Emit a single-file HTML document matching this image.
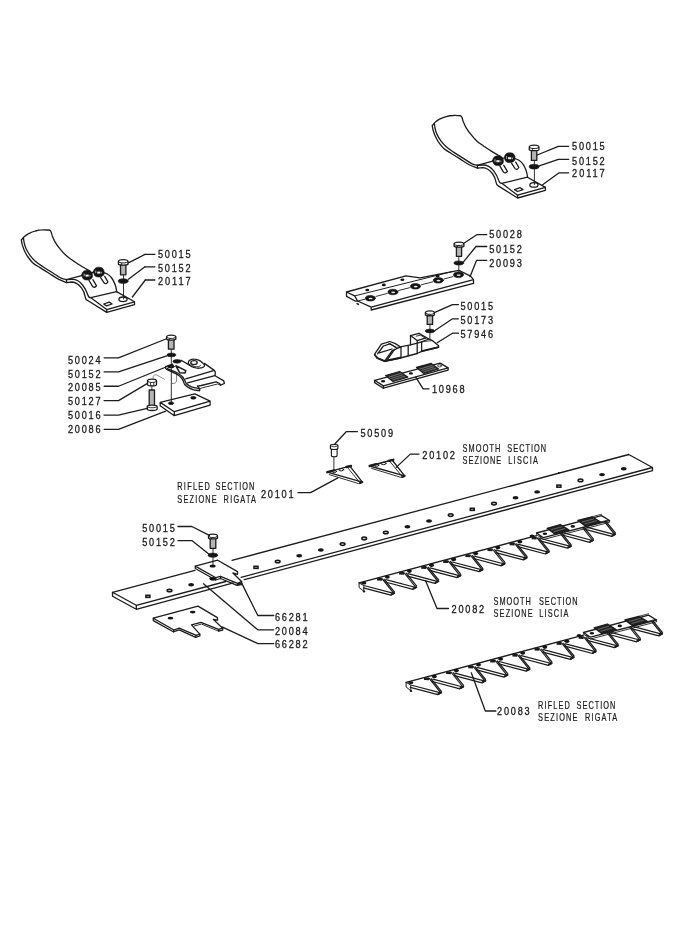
<!DOCTYPE html>
<html><head><meta charset="utf-8"><title>Parts diagram</title>
<style>
html,body{margin:0;padding:0;background:#fff}
body{width:680px;height:943px;overflow:hidden}
svg{display:block;filter:grayscale(1)}
.n{font-family:"Liberation Sans",sans-serif;font-size:10.2px;fill:#1a1a1a;stroke:#1a1a1a;stroke-width:0.3px}
.s{font-family:"Liberation Sans",sans-serif;font-size:10.2px;fill:#1a1a1a;stroke:#1a1a1a;stroke-width:0.22px}
.l{fill:none;stroke:#1c1c1c;stroke-width:1.3;stroke-linejoin:round;stroke-linecap:round}
.hf{fill:#161616;stroke:none}
.ho{fill:#ccc;stroke:#161616;stroke-width:1.5}
</style></head><body>
<svg width="680" height="943" viewBox="0 0 680 943">
<rect width="680" height="943" fill="#fff"/>
<text class="n" transform="translate(572.1,150.4) scale(0.9,1)" textLength="36.2" lengthAdjust="spacing">50015</text>
<text class="n" transform="translate(572.1,164.9) scale(0.9,1)" textLength="36.2" lengthAdjust="spacing">50152</text>
<text class="n" transform="translate(572.1,176.9) scale(0.9,1)" textLength="36.2" lengthAdjust="spacing">20117</text>
<text class="n" transform="translate(158.0,257.6) scale(0.9,1)" textLength="36.2" lengthAdjust="spacing">50015</text>
<text class="n" transform="translate(158.0,271.6) scale(0.9,1)" textLength="36.2" lengthAdjust="spacing">50152</text>
<text class="n" transform="translate(158.0,284.9) scale(0.9,1)" textLength="36.2" lengthAdjust="spacing">20117</text>
<text class="n" transform="translate(489.2,237.6) scale(0.9,1)" textLength="36.2" lengthAdjust="spacing">50028</text>
<text class="n" transform="translate(489.2,252.6) scale(0.9,1)" textLength="36.2" lengthAdjust="spacing">50152</text>
<text class="n" transform="translate(489.2,266.8) scale(0.9,1)" textLength="36.2" lengthAdjust="spacing">20093</text>
<text class="n" transform="translate(460.4,309.7) scale(0.9,1)" textLength="36.2" lengthAdjust="spacing">50015</text>
<text class="n" transform="translate(460.4,323.7) scale(0.9,1)" textLength="36.2" lengthAdjust="spacing">50173</text>
<text class="n" transform="translate(460.4,337.6) scale(0.9,1)" textLength="36.2" lengthAdjust="spacing">57946</text>
<text class="n" transform="translate(431.9,392.5) scale(0.9,1)" textLength="36.2" lengthAdjust="spacing">10968</text>
<text class="n" transform="translate(67.9,363.75) scale(0.9,1)" textLength="36.2" lengthAdjust="spacing">50024</text>
<text class="n" transform="translate(67.9,377.6) scale(0.9,1)" textLength="36.2" lengthAdjust="spacing">50152</text>
<text class="n" transform="translate(67.9,390.9) scale(0.9,1)" textLength="36.2" lengthAdjust="spacing">20085</text>
<text class="n" transform="translate(67.9,405) scale(0.9,1)" textLength="36.2" lengthAdjust="spacing">50127</text>
<text class="n" transform="translate(67.9,418.9) scale(0.9,1)" textLength="36.2" lengthAdjust="spacing">50016</text>
<text class="n" transform="translate(67.9,432.6) scale(0.9,1)" textLength="36.2" lengthAdjust="spacing">20086</text>
<text class="n" transform="translate(360.4,437) scale(0.9,1)" textLength="36.2" lengthAdjust="spacing">50509</text>
<text class="n" transform="translate(422.3,458.8) scale(0.9,1)" textLength="36.2" lengthAdjust="spacing">20102</text>
<text class="n" transform="translate(261.0,497.7) scale(0.9,1)" textLength="36.2" lengthAdjust="spacing">20101</text>
<text class="n" transform="translate(142.2,532.1) scale(0.9,1)" textLength="36.2" lengthAdjust="spacing">50015</text>
<text class="n" transform="translate(142.2,546.2) scale(0.9,1)" textLength="36.2" lengthAdjust="spacing">50152</text>
<text class="n" transform="translate(275.0,620.8) scale(0.9,1)" textLength="36.2" lengthAdjust="spacing">66281</text>
<text class="n" transform="translate(275.0,634.8) scale(0.9,1)" textLength="36.2" lengthAdjust="spacing">20084</text>
<text class="n" transform="translate(275.0,647.6) scale(0.9,1)" textLength="36.2" lengthAdjust="spacing">66282</text>
<text class="n" transform="translate(451.6,613.2) scale(0.9,1)" textLength="36.2" lengthAdjust="spacing">20082</text>
<text class="n" transform="translate(497.1,714.7) scale(0.9,1)" textLength="36.2" lengthAdjust="spacing">20083</text>
<text class="s" transform="translate(462.6,452.2) scale(0.72,1)" textLength="52.5" lengthAdjust="spacing">SMOOTH</text>
<text class="s" transform="translate(507.3,452.2) scale(0.72,1)" textLength="53.9" lengthAdjust="spacing">SECTION</text>
<text class="s" transform="translate(462.6,463.7) scale(0.72,1)" textLength="53.7" lengthAdjust="spacing">SEZIONE</text>
<text class="s" transform="translate(508.2,463.7) scale(0.72,1)" textLength="41.2" lengthAdjust="spacing">LISCIA</text>
<text class="s" transform="translate(177.3,490) scale(0.72,1)" textLength="45.0" lengthAdjust="spacing">RIFLED</text>
<text class="s" transform="translate(215.5,490) scale(0.72,1)" textLength="53.8" lengthAdjust="spacing">SECTION</text>
<text class="s" transform="translate(177.3,503) scale(0.72,1)" textLength="54.7" lengthAdjust="spacing">SEZIONE</text>
<text class="s" transform="translate(223.6,503) scale(0.72,1)" textLength="45.0" lengthAdjust="spacing">RIGATA</text>
<text class="s" transform="translate(493.6,605) scale(0.72,1)" textLength="51.7" lengthAdjust="spacing">SMOOTH</text>
<text class="s" transform="translate(538.9,605) scale(0.72,1)" textLength="53.8" lengthAdjust="spacing">SECTION</text>
<text class="s" transform="translate(493.6,616.9) scale(0.72,1)" textLength="54.2" lengthAdjust="spacing">SEZIONE</text>
<text class="s" transform="translate(539.3,616.9) scale(0.72,1)" textLength="40.4" lengthAdjust="spacing">LISCIA</text>
<text class="s" transform="translate(538.1,709.2) scale(0.72,1)" textLength="43.9" lengthAdjust="spacing">RIFLED</text>
<text class="s" transform="translate(576.6,709.2) scale(0.72,1)" textLength="53.9" lengthAdjust="spacing">SECTION</text>
<text class="s" transform="translate(538.1,720.9) scale(0.72,1)" textLength="54.6" lengthAdjust="spacing">SEZIONE</text>
<text class="s" transform="translate(585.0,720.9) scale(0.72,1)" textLength="44.7" lengthAdjust="spacing">RIGATA</text>
<g class="l"><path d="M112.5,592.3 L195,570.3 M232,560.4 L628.75,454.5 L652.5,467.5 L652.5,470.7 L244.2,579.7 M652.5,467.5 L241.1,577.3"/>
<path d="M112.5,592.3 L136.3,605.3 L136.3,609.3 L112.5,596.3 Z M136.3,605.3 L225.7,581.5 M136.3,609.3 L233.4,582.8"/></g>
<ellipse cx="623.8" cy="468.8" rx="2.9" ry="1.7" class="hf"/>
<ellipse cx="602.1" cy="474.6" rx="2.9" ry="1.7" class="hf"/>
<ellipse cx="580.5" cy="480.4" rx="2.4" ry="1.3" class="ho"/>
<rect x="556.9" y="485.1" width="4" height="2.1" class="ho"/>
<ellipse cx="537.2" cy="491.9" rx="2.9" ry="1.7" class="hf"/>
<ellipse cx="515.6" cy="497.8" rx="2.9" ry="1.7" class="hf"/>
<ellipse cx="494.0" cy="503.6" rx="2.4" ry="1.3" class="ho"/>
<rect x="470.3" y="508.3" width="4" height="2.1" class="ho"/>
<ellipse cx="450.7" cy="515.1" rx="2.4" ry="1.3" class="ho"/>
<ellipse cx="429.1" cy="521.0" rx="2.9" ry="1.7" class="hf"/>
<ellipse cx="407.5" cy="526.8" rx="2.9" ry="1.7" class="hf"/>
<ellipse cx="385.8" cy="532.5" rx="2.4" ry="1.3" class="ho"/>
<ellipse cx="364.2" cy="538.4" rx="2.4" ry="1.3" class="ho"/>
<ellipse cx="342.6" cy="544.1" rx="2.4" ry="1.3" class="ho"/>
<ellipse cx="320.9" cy="550.0" rx="2.9" ry="1.7" class="hf"/>
<ellipse cx="299.3" cy="555.8" rx="2.9" ry="1.7" class="hf"/>
<ellipse cx="277.7" cy="561.5" rx="2.4" ry="1.3" class="ho"/>
<rect x="254.0" y="566.3" width="4" height="2.1" class="ho"/>
<ellipse cx="212.8" cy="579.0" rx="2.9" ry="1.7" class="hf"/>
<ellipse cx="191.2" cy="584.8" rx="2.9" ry="1.7" class="hf"/>
<ellipse cx="169.5" cy="590.5" rx="2.4" ry="1.3" class="ho"/>
<rect x="145.9" y="595.3" width="4" height="2.1" class="ho"/>
<circle cx="558.8" cy="473" r="0.9" class="hf"/>
<g class="l"><path d="M432.3,125.6 C432.7,125.1 433.9,123.5 435.0,122.4 C436.1,121.4 437.3,120.3 439.1,119.4 C441.0,118.4 443.8,117.3 446.2,116.6 C448.5,116.0 450.9,115.6 453.2,115.5 C455.5,115.3 458.9,115.7 460.1,115.7" />
<path d="M460.1,115.7 C460.3,115.9 461.2,115.8 461.7,116.8 C462.2,117.7 462.5,119.6 463.2,121.5 C464.0,123.3 464.9,125.8 466.2,127.9 C467.5,130.1 469.1,132.3 470.9,134.4 C472.6,136.6 474.6,138.9 476.8,140.9 C478.9,142.8 481.5,144.5 483.8,146.2 C486.2,147.8 488.5,149.4 490.9,150.9 C493.2,152.4 496.4,154.1 497.9,155.0 C499.5,155.9 499.9,156.2 500.3,156.4" />
<path d="M432.3,125.6 C432.4,126.3 432.5,128.0 433.0,129.7 C433.5,131.4 434.1,133.5 435.0,135.6 C435.9,137.6 437.1,139.9 438.5,142.1 C440.0,144.2 441.8,146.7 443.8,148.5 C445.9,150.4 448.1,151.5 450.9,153.2 C453.6,155.0 457.2,157.2 460.3,159.1 C463.4,161.1 466.8,163.5 469.7,165.0 C472.6,166.5 476.3,167.6 477.6,168.2" />
<path d="M434.4,123.6 C434.5,124.4 434.7,126.7 435.1,128.5 C435.5,130.3 436.0,132.4 437.0,134.4 C438.0,136.5 439.4,138.8 440.9,140.9 C442.4,142.9 444.1,144.9 446.2,146.8 C448.3,148.6 450.7,150.2 453.5,152.1 C456.2,153.9 459.5,156.0 462.6,157.9 C465.7,159.9 469.6,162.6 472.1,163.8 C474.5,165.0 476.5,165.0 477.4,165.2" />
<path d="M477.3,165.3 L492.6,161.2"/>
<path d="M477.3,165.3 L477.6,168.2 L483,167.6 C487,167.8 490,170.5 492.4,173.5 C494.5,176.3 495.6,179.5 496.1,182.4 C496.4,184.3 497,185.4 498.2,185.9 L517.6,198 L545.4,190.3 L545.4,187.4 L517.6,195.2 L517.6,198"/>
<path d="M477.3,165.3 L482.9,165 C487,164.8 491,167.5 493.5,170.6 C496,173.8 497.8,177.5 498.8,180.6 C499.3,182.3 500.4,183.3 501.8,183.3 L517.6,195.2"/>
<path d="M501.8,183.3 L527.4,177.2 L545.4,187.4"/>
<path d="M513.5,158.3 C517.5,158.8 520.5,160.8 522.6,163.6 C525.5,167.5 527,172 527.6,177.4"/>
<path d="M492.6,161.2 L494,160.8 M501.5,158.6 L505.5,157.6"/>
<path d="M499.7,165.6 L503.3,171.8 C504,173.2 506.2,173.3 507.4,171.4 L503.8,165.3" />
<path d="M511.5,163.2 L515,168.5 C515.8,169.8 518,169.6 518.8,167.4 L515.6,162"/>
<path d="M514.6,189.6 L520.2,187.7 L523,189.6 L517.4,191.5 Z"/>
<ellipse cx="533.9" cy="184.9" rx="4.1" ry="2.3"/>
<path d="M492.8,160.3 C492.8,157.0 495.5,155.8 498.5,155.8 C501.8,155.8 503.4,157.8 503.4,161.3 C503.4,164.4 501,165.60000000000002 497.5,165.60000000000002 C494.4,165.60000000000002 492.8,163.8 492.8,160.3 Z" fill="#141414" stroke="#141414" stroke-width="0.6"/><rect x="496.4" y="160.20000000000002" width="3.2" height="2" fill="#f4f4f4" stroke="none"/><rect x="494.6" y="159.20000000000002" width="0.8" height="2.6" fill="#ddd" stroke="none"/><rect x="500.5" y="160.4" width="0.7" height="1.8" fill="#ccc" stroke="none"/>
<path d="M504.5,157.3 C504.5,154.0 507.2,152.8 510.2,152.8 C513.5,152.8 515.1,154.8 515.1,158.3 C515.1,161.4 512.7,162.60000000000002 509.2,162.60000000000002 C506.09999999999997,162.60000000000002 504.5,160.8 504.5,157.3 Z" fill="#141414" stroke="#141414" stroke-width="0.6"/><rect x="508.09999999999997" y="157.20000000000002" width="3.2" height="2" fill="#f4f4f4" stroke="none"/><rect x="506.3" y="156.20000000000002" width="0.8" height="2.6" fill="#ddd" stroke="none"/><rect x="512.2" y="157.4" width="0.7" height="1.8" fill="#ccc" stroke="none"/>
<path d="M534.4,160.4 L534.4,184.6" stroke-width="0.9"/>
<path d="M531.4,150.0 L531.4,160.4 L536.8000000000001,160.4 L536.8000000000001,150.0 Z" fill="#b4b4b4" stroke-width="1.3"/>
<path d="M529.3000000000001,147.1 C529.3000000000001,144.5 538.9,144.5 538.9,147.1 L538.9,149.9 C537.9,150.9 530.3000000000001,150.9 529.3000000000001,149.9 Z" fill="#fff" stroke-width="1.3"/>
<path d="M529.3000000000001,147.29999999999998 C530.3000000000001,149.1 537.9,149.1 538.9,147.29999999999998" stroke-width="1"/>
<path d="M532.5,148.7 L532.5,150.5" stroke-width="0.8"/>
<ellipse cx="534.1" cy="166.7" rx="5.0" ry="2.4" fill="#141414" stroke="#141414" stroke-width="0.5"/></g>
<g class="l" transform="translate(-410.9,114.4)"><path d="M432.3,125.6 C432.7,125.1 433.9,123.5 435.0,122.4 C436.1,121.4 437.3,120.3 439.1,119.4 C441.0,118.4 443.8,117.3 446.2,116.6 C448.5,116.0 450.9,115.6 453.2,115.5 C455.5,115.3 458.9,115.7 460.1,115.7" />
<path d="M460.1,115.7 C460.3,115.9 461.2,115.8 461.7,116.8 C462.2,117.7 462.5,119.6 463.2,121.5 C464.0,123.3 464.9,125.8 466.2,127.9 C467.5,130.1 469.1,132.3 470.9,134.4 C472.6,136.6 474.6,138.9 476.8,140.9 C478.9,142.8 481.5,144.5 483.8,146.2 C486.2,147.8 488.5,149.4 490.9,150.9 C493.2,152.4 496.4,154.1 497.9,155.0 C499.5,155.9 499.9,156.2 500.3,156.4" />
<path d="M432.3,125.6 C432.4,126.3 432.5,128.0 433.0,129.7 C433.5,131.4 434.1,133.5 435.0,135.6 C435.9,137.6 437.1,139.9 438.5,142.1 C440.0,144.2 441.8,146.7 443.8,148.5 C445.9,150.4 448.1,151.5 450.9,153.2 C453.6,155.0 457.2,157.2 460.3,159.1 C463.4,161.1 466.8,163.5 469.7,165.0 C472.6,166.5 476.3,167.6 477.6,168.2" />
<path d="M434.4,123.6 C434.5,124.4 434.7,126.7 435.1,128.5 C435.5,130.3 436.0,132.4 437.0,134.4 C438.0,136.5 439.4,138.8 440.9,140.9 C442.4,142.9 444.1,144.9 446.2,146.8 C448.3,148.6 450.7,150.2 453.5,152.1 C456.2,153.9 459.5,156.0 462.6,157.9 C465.7,159.9 469.6,162.6 472.1,163.8 C474.5,165.0 476.5,165.0 477.4,165.2" />
<path d="M477.3,165.3 L492.6,161.2"/>
<path d="M477.3,165.3 L477.6,168.2 L483,167.6 C487,167.8 490,170.5 492.4,173.5 C494.5,176.3 495.6,179.5 496.1,182.4 C496.4,184.3 497,185.4 498.2,185.9 L517.6,198 L545.4,190.3 L545.4,187.4 L517.6,195.2 L517.6,198"/>
<path d="M477.3,165.3 L482.9,165 C487,164.8 491,167.5 493.5,170.6 C496,173.8 497.8,177.5 498.8,180.6 C499.3,182.3 500.4,183.3 501.8,183.3 L517.6,195.2"/>
<path d="M501.8,183.3 L527.4,177.2 L545.4,187.4"/>
<path d="M513.5,158.3 C517.5,158.8 520.5,160.8 522.6,163.6 C525.5,167.5 527,172 527.6,177.4"/>
<path d="M492.6,161.2 L494,160.8 M501.5,158.6 L505.5,157.6"/>
<path d="M499.7,165.6 L503.3,171.8 C504,173.2 506.2,173.3 507.4,171.4 L503.8,165.3" />
<path d="M511.5,163.2 L515,168.5 C515.8,169.8 518,169.6 518.8,167.4 L515.6,162"/>
<path d="M514.6,189.6 L520.2,187.7 L523,189.6 L517.4,191.5 Z"/>
<ellipse cx="533.9" cy="184.9" rx="4.1" ry="2.3"/>
<path d="M492.8,160.3 C492.8,157.0 495.5,155.8 498.5,155.8 C501.8,155.8 503.4,157.8 503.4,161.3 C503.4,164.4 501,165.60000000000002 497.5,165.60000000000002 C494.4,165.60000000000002 492.8,163.8 492.8,160.3 Z" fill="#141414" stroke="#141414" stroke-width="0.6"/><rect x="496.4" y="160.20000000000002" width="3.2" height="2" fill="#f4f4f4" stroke="none"/><rect x="494.6" y="159.20000000000002" width="0.8" height="2.6" fill="#ddd" stroke="none"/><rect x="500.5" y="160.4" width="0.7" height="1.8" fill="#ccc" stroke="none"/>
<path d="M504.5,157.3 C504.5,154.0 507.2,152.8 510.2,152.8 C513.5,152.8 515.1,154.8 515.1,158.3 C515.1,161.4 512.7,162.60000000000002 509.2,162.60000000000002 C506.09999999999997,162.60000000000002 504.5,160.8 504.5,157.3 Z" fill="#141414" stroke="#141414" stroke-width="0.6"/><rect x="508.09999999999997" y="157.20000000000002" width="3.2" height="2" fill="#f4f4f4" stroke="none"/><rect x="506.3" y="156.20000000000002" width="0.8" height="2.6" fill="#ddd" stroke="none"/><rect x="512.2" y="157.4" width="0.7" height="1.8" fill="#ccc" stroke="none"/>
<path d="M534.4,160.4 L534.4,184.6" stroke-width="0.9"/>
<path d="M531.4,150.0 L531.4,160.4 L536.8000000000001,160.4 L536.8000000000001,150.0 Z" fill="#b4b4b4" stroke-width="1.3"/>
<path d="M529.3000000000001,147.1 C529.3000000000001,144.5 538.9,144.5 538.9,147.1 L538.9,149.9 C537.9,150.9 530.3000000000001,150.9 529.3000000000001,149.9 Z" fill="#fff" stroke-width="1.3"/>
<path d="M529.3000000000001,147.29999999999998 C530.3000000000001,149.1 537.9,149.1 538.9,147.29999999999998" stroke-width="1"/>
<path d="M532.5,148.7 L532.5,150.5" stroke-width="0.8"/>
<ellipse cx="534.1" cy="166.7" rx="5.0" ry="2.4" fill="#141414" stroke="#141414" stroke-width="0.5"/></g>
<g class="l"><path d="M537.2,155 L558.4,146.3 L568.7,146.3 M538.5,166.2 L558.4,159.3 L568.7,159.3 M542.6,184.7 L559.1,172.8 L568.7,172.8"/></g>
<g class="l"><path d="M176.5,374.2 C176.5,375.3 176.7,379.4 176.5,380.9 C176.2,382.4 175.6,382.7 174.9,383.1 C174.2,383.6 172.6,383.4 172.1,383.5" stroke-width="0.7" stroke="#444"/>
<path d="M165.7,366.5 C165.7,366.9 165.1,368.1 166.2,369.0 C167.3,370.0 170.6,371.2 172.4,372.1 C174.2,373.0 175.6,373.6 177.0,374.4 C178.4,375.2 179.6,375.9 180.6,377.0 C181.6,378.1 182.5,379.6 183.2,380.9 C183.8,382.1 183.9,383.5 184.7,384.5 C185.5,385.5 186.4,386.2 187.8,387.1 C189.2,387.9 191.0,389.0 192.9,389.6 C194.9,390.2 198.5,390.5 199.6,390.7" />
<path d="M167.2,368.7 C168.2,369.1 171.6,370.4 173.4,371.1 C175.1,371.8 176.2,372.3 177.7,373.2 C179.2,374.0 181.0,375.0 182.1,376.3 C183.3,377.5 184.0,379.2 184.7,380.4 C185.4,381.6 185.5,382.6 186.3,383.5 C187.0,384.3 187.7,384.9 189.0,385.6 C190.3,386.3 192.3,387.2 194.0,387.7 C195.7,388.2 198.4,388.5 199.3,388.7" />
<path d="M199.6,390.7 L199.6,388.7 L197.6,386.2" />
<path d="M165.7,366.5 L172.9,364.1" />
<path d="M181.1,360.3 L189.9,365.4" />
<path d="M185.7,378.8 L213.5,370.6" />
<path d="M187.6,382.9 L214.8,375.7" />
<path d="M204.3,363.4 L214.0,370.1 L215.3,371.8 L215.1,375.7 L223.8,380.9 L224.4,383.5 L220.5,385.2 L219.7,383.5 L216.1,381.9 L201.2,385.5 L197.6,386.2" />
<path d="M220.5,385.2 L217.6,384.0 L203.2,387.6 L199.6,388.7" stroke-width="0.9"/>
<path d="M188.3,362.1 C188.4,361.2 189.4,360.3 190.4,359.8 C191.3,359.3 192.6,359.0 194.0,359.1 C195.3,359.1 197.1,359.5 198.6,360.1 C200.1,360.7 201.7,362.0 202.7,362.9 C203.7,363.7 204.4,364.5 204.5,365.2 C204.6,366.0 204.1,366.8 203.2,367.3 C202.3,367.8 200.7,368.2 199.1,368.2 C197.6,368.3 195.5,368.0 194.0,367.5 C192.4,367.0 190.8,366.1 189.9,365.2 C188.9,364.3 188.2,363.1 188.3,362.1 Z" />
<ellipse cx="194.0" cy="362.6" rx="3.2" ry="2" />
<path d="M190.9,364.4 C191.4,364.8 192.7,366.1 194.0,366.5 C195.3,366.8 197.5,366.8 198.6,366.7 C199.7,366.5 200.1,365.6 200.4,365.4" stroke-width="0.9"/>
<path d="M175.8,365.8 L185.8,370.6 L185,372.9 L179.6,372.7 L177.4,368.6 Z" fill="#fff" stroke-width="1.5"/>
<ellipse cx="176.9857936998147" cy="361.3238624665431" rx="4.1" ry="1.9" fill="#141414" stroke="#141414" stroke-width="0.5"/>
<ellipse cx="170.80914144533662" cy="366.4710726786082" rx="3.6" ry="1.6" fill="#141414" stroke="#141414" stroke-width="0.5"/>
<path d="M171.3,349.5 L171.3,403" stroke-width="0.9"/>
<path d="M168.39999999999998,339.4 L168.39999999999998,349.2 L174.0,349.2 L174.0,339.4 Z" fill="#b4b4b4" stroke-width="1.3"/>
<path d="M166.6,337 C166.6,334.4 175.79999999999998,334.4 175.79999999999998,337 L175.79999999999998,339.29999999999995 C174.79999999999998,340.29999999999995 167.6,340.29999999999995 166.6,339.29999999999995 Z" fill="#fff" stroke-width="1.3"/>
<path d="M166.6,337.2 C167.6,339 174.79999999999998,339 175.79999999999998,337.2" stroke-width="1"/>
<path d="M169.6,338.6 L169.6,339.9" stroke-width="0.8"/>
<ellipse cx="171.4" cy="354.9" rx="4.4" ry="1.9" fill="#141414" stroke="#141414" stroke-width="0.5"/>
<path d="M160.2,402.4 L194.8,393.8 L210.1,401.1 L174.3,411.7 Z M160.2,402.4 L160.2,405.7 L174.3,415.7 L210.1,405.1 L210.1,401.1 M174.3,411.7 L174.3,415.7"/>
<ellipse cx="171" cy="403.2" rx="2.7" ry="1.5" fill="#141414" stroke="#141414" stroke-width="0.5"/>
<ellipse cx="193.3" cy="397.8" rx="2.7" ry="1.5" fill="#141414" stroke="#141414" stroke-width="0.5"/>
<path d="M147.5,381 C147.5,378.6 156.5,378.6 156.5,381 L156.5,384.4 C156.5,386.4 147.5,386.4 147.5,384.4 Z" fill="#fff" stroke-width="1.3"/>
<path d="M147.5,381.2 C148.5,383 155.5,383 156.5,381.2 M150.6,382.5 L150.6,385.6 M153.8,382.5 L153.8,385.6" stroke-width="0.9"/>
<path d="M153.2,379 L153.2,376.6 C153.4,375 155,374.6 156.5,374.8 L164.6,379.3" stroke-width="0.6" stroke="#444"/>
<path d="M151.9,385.8 L151.9,390" stroke-width="0.9"/>
<path d="M149.2,390 L154.5,390 L154.5,405.7 L149.2,405.7 Z" fill="#b4b4b4" stroke-width="1.3"/>
<path d="M147.2,406.4 C147.2,404.6 157.1,404.6 157.1,406.4 L157.1,409 C157.1,411 147.2,411 147.2,409 Z" fill="#fff" stroke-width="1.3"/>
<path d="M147.2,406.6 C148.4,408.2 156,408.2 157.1,406.6" stroke-width="0.9"/></g>
<g class="l"><path d="M104.1,357.8 L118.5,357.8 L166,339 M104.1,371.9 L118.5,371.9 L167.5,355.6 M104.1,386.25 L118.5,386.25 L166,367 M104.1,400.6 L118.5,400.6 L147.5,383.4 M104.1,415.2 L118.5,415.2 L147.2,408.4 M104.1,429.3 L118.5,429.3 L165.7,411.2"/></g>
<g class="l"><path d="M346.5,292 L405.9,275.9 L420,277.8 L458.8,270.3 L470.6,276.2 L473.5,279.7 L473.5,283.4 L371.2,310 L371.2,307.1 L473.5,279.7 M346.5,292 L346.5,296.4 L355.6,301.2 L357.6,301.2 M346.5,292 L354.7,295.9 L357.6,301 L371.2,307.1"/>
<path d="M354.7,295.9 L452.5,271.5" stroke-width="1"/>
<path d="M357.6,301 L364.8,299.3 M376,296.4 L387.4,293.4 M398.6,290.5 L410,287.6 M421.2,284.8 L432.6,281.9 M443.8,279 L453,276.6" stroke-width="0.9"/>
<path d="M357.2,303.6 L358.4,304.4" stroke-width="1.6"/>
<ellipse cx="370.4" cy="298.2" rx="5.0" ry="2.8" fill="#141414" stroke="#141414" stroke-width="0.6"/><ellipse cx="370.59999999999997" cy="298.5" rx="2.00" ry="0.84" fill="#e4e4e4" stroke="none"/>
<ellipse cx="393" cy="292" rx="5.0" ry="2.8" fill="#141414" stroke="#141414" stroke-width="0.6"/><ellipse cx="393.2" cy="292.3" rx="2.00" ry="0.84" fill="#e4e4e4" stroke="none"/>
<ellipse cx="415.5" cy="286.3" rx="5.0" ry="2.8" fill="#141414" stroke="#141414" stroke-width="0.6"/><ellipse cx="415.7" cy="286.6" rx="2.00" ry="0.84" fill="#e4e4e4" stroke="none"/>
<ellipse cx="438.3" cy="280.3" rx="5.0" ry="2.8" fill="#141414" stroke="#141414" stroke-width="0.6"/><ellipse cx="438.5" cy="280.6" rx="2.00" ry="0.84" fill="#e4e4e4" stroke="none"/>
<ellipse cx="458.5" cy="274.8" rx="5.0" ry="2.8" fill="#141414" stroke="#141414" stroke-width="0.6"/><ellipse cx="458.7" cy="275.1" rx="2.00" ry="0.84" fill="#e4e4e4" stroke="none"/>
<ellipse cx="367.3" cy="290" rx="2" ry="1.3" fill="#141414" stroke="none"/>
<ellipse cx="383.8" cy="284.9" rx="2" ry="1.3" fill="#141414" stroke="none"/>
<ellipse cx="402.4" cy="279.8" rx="2" ry="1.3" fill="#141414" stroke="none"/>
<ellipse cx="437.6" cy="275.9" rx="2" ry="1.3" fill="#141414" stroke="none"/>
<path d="M458.8,256.2 L458.8,274" stroke-width="0.9"/>
<path d="M456.4,246.4 L456.4,256.3 L461.6,256.3 L461.6,246.4 Z" fill="#b4b4b4" stroke-width="1.3"/>
<path d="M454.1,244.1 C454.1,241.5 463.9,241.5 463.9,244.1 L463.9,246.3 C462.9,247.3 455.1,247.3 454.1,246.3 Z" fill="#fff" stroke-width="1.3"/>
<path d="M454.1,244.29999999999998 C455.1,246.1 462.9,246.1 463.9,244.29999999999998" stroke-width="1"/>
<path d="M457.4,245.7 L457.4,246.9" stroke-width="0.8"/>
<ellipse cx="458.8" cy="263" rx="4.9" ry="2.1" fill="#141414" stroke="#141414" stroke-width="0.5"/>
<path d="M374.5,354.3 L381.4,344.2 L389.8,341.5 L394.8,343.4 L400.4,346.8 L410.5,344.9 L410.5,335.6 L418.9,333.4 L428.9,339.0 L432.3,340.6 L438.6,345.7 L438.4,347.4 L421.6,351.3 L417.2,353.5 L400.4,358.0 L384.8,361.3 L376.9,358.0 Z" fill="#fff"/>
<path d="M377.5,353.8 L383.4,346.0 L390.1,343.8 L395.9,347.4" />
<path d="M379.2,352.9 L392.0,349.0" />
<path d="M384.8,361.0 L392.4,350.5 L400.4,347.1" />
<path d="M387.2,359.9 L394.6,349.4" />
<path d="M388.1,342.9 L395.9,347.4 L400.4,346.8" stroke-width="0.8"/>
<path d="M401.0,347.4 L401.0,357.4" />
<path d="M408.2,346.0 L408.2,355.7" />
<path d="M417.2,343.8 L417.2,353.5" />
<path d="M421.6,342.3 L421.6,351.6" />
<path d="M410.5,344.9 L417.2,343.1 L421.6,341.8 L428.9,339.0" />
<path d="M410.5,335.6 L417.2,340.6 L417.2,343.4" />
<path d="M417.2,340.6 L426.1,337.9" />
<path d="M416.1,336.2 L420.5,335.1 L425.2,338.2" stroke-width="0.9"/>
<path d="M421.6,341.8 L432.3,340.6" stroke-width="0.8"/>
<path d="M384.8,361.0 L400.4,357.7" stroke-width="2"/>
<path d="M422.8,350.9 L438.4,347.1" stroke-width="2"/>
<path d="M374.9,355.0 L377.5,358.1 L384.8,361.2" stroke-width="1.8"/>
<path d="M429.9,324.4 L429.9,339.4" stroke-width="0.9"/>
<path d="M427.2,315.09999999999997 L427.2,324.4 L432.59999999999997,324.4 L432.59999999999997,315.09999999999997 Z" fill="#b4b4b4" stroke-width="1.3"/>
<path d="M425.4,312.9 C425.4,310.29999999999995 434.4,310.29999999999995 434.4,312.9 L434.4,314.99999999999994 C433.4,315.99999999999994 426.4,315.99999999999994 425.4,314.99999999999994 Z" fill="#fff" stroke-width="1.3"/>
<path d="M425.4,313.09999999999997 C426.4,314.9 433.4,314.9 434.4,313.09999999999997" stroke-width="1"/>
<path d="M428.29999999999995,314.5 L428.29999999999995,315.59999999999997" stroke-width="0.8"/>
<ellipse cx="429.9" cy="331" rx="4.7" ry="1.9" fill="#141414" stroke="#141414" stroke-width="0.5"/>
<path d="M374.6,380.3 L440.1,363.1 L448.1,367.9 L383.4,385.9 Z" />
<path d="M374.6,380.3 L374.6,382.6 L383.4,388.2 L448.1,370.1 L448.1,367.9" />
<path d="M383.4,385.9 L383.4,388.2" />
<path d="M385.6,375.6 L399.6,371.5 L407.7,377.1 L393.0,381.5 Z" fill="#2a2a2a"/>
<path d="M416.5,367.5 L431.2,363.5 L438.6,369.0 L423.9,373.4 Z" fill="#2a2a2a"/>
<path d="M389.0,377.1 L400.9,373.4" stroke="#999" stroke-width="0.6"/>
<path d="M390.9,378.5 L402.9,374.8" stroke="#999" stroke-width="0.6"/>
<path d="M392.7,380.0 L404.9,376.2" stroke="#999" stroke-width="0.6"/>
<path d="M419.9,369.0 L432.3,365.5" stroke="#999" stroke-width="0.6"/>
<path d="M421.8,370.4 L434.1,366.8" stroke="#999" stroke-width="0.6"/>
<path d="M423.6,371.9 L435.9,368.2" stroke="#999" stroke-width="0.6"/>
<ellipse cx="383.1" cy="381.2" rx="2.1" ry="1.2" fill="#141414" stroke="none"/>
<ellipse cx="410.9" cy="373.4" rx="2.1" ry="1.2" fill="#141414" stroke="none"/>
<ellipse cx="439.5" cy="365.8" rx="2" ry="1.1" stroke-width="0.8"/></g>
<g class="l"><path d="M463.5,243.5 L476.8,234.7 L486.8,234.7 M463.5,261.9 L476,246.5 L486.8,246.5 M470.1,276.6 L476.5,260.4 L486.8,260.4 M434.3,312.6 L452.5,304.6 L458.4,304.6 M434.6,330.7 L452.5,318.8 L458.4,318.8 M437.2,342.8 L452.5,333.2 L458.4,333.2 M415.8,377.1 L423.1,388.8 L429,388.8"/></g>
<g class="l"><g transform="translate(0,0)">
<path d="M327.3,472.2 L349.8,466.2 L362.4,482.1 Z" fill="#fff"/>
<path d="M329.3,474.6 L358.6,483.6 L362.4,482.1 M347.6,467.6 L359.8,482.6" stroke-width="0.9"/>
<path d="M327.3,472.2 L334,470.4 M346.4,467 L351,466" stroke-width="2.4"/>
<ellipse cx="341.2" cy="469.7" rx="2.5" ry="1.2" stroke-width="1"/>
<ellipse cx="334.3" cy="471.4" rx="2.3" ry="1.1" stroke-width="1"/>
<path d="M360,483.2 L362.4,482.1" stroke-width="2"/>
</g>
<g transform="translate(42.3,-6.2)">
<path d="M327.3,472.2 L349.8,466.2 L362.4,482.1 Z" fill="#fff"/>
<path d="M329.3,474.6 L358.6,483.6 L362.4,482.1 M347.6,467.6 L359.8,482.6" stroke-width="0.9"/>
<path d="M327.3,472.2 L334,470.4 M346.4,467 L351,466" stroke-width="2.4"/>
<ellipse cx="341.2" cy="469.7" rx="2.5" ry="1.2" stroke-width="1"/>
<ellipse cx="334.3" cy="471.4" rx="2.3" ry="1.1" stroke-width="1"/>
<path d="M360,483.2 L362.4,482.1" stroke-width="2"/>
</g>
<path d="M333.9,456.8 L333.9,471" stroke-width="0.9"/>
<path d="M331.4,448.6 L331.4,455.4 C331.4,457.2 337.1,457.2 337.1,455.4 L337.1,448.6" fill="#fff" stroke-width="1.1"/>
<path d="M330.4,445.6 C330.4,443.9 337.9,443.9 337.9,445.6 L337.9,448.2 C337.9,449.9 330.4,449.9 330.4,448.2 Z" fill="#fff" stroke-width="1.2"/>
<path d="M330.4,445.8 C331,447.2 337.2,447.2 337.9,445.8" stroke-width="0.8"/></g>
<g class="l"><path d="M195.3,566.1 L217.7,560.2 L237.5,571.6 L237.5,574.3 L232.9,573.0 L241.6,581.5 L237.5,583.3 L220.5,576.4 L215.9,577.7 Z" fill="#fff"/>
<path d="M195.3,566.1 L195.3,568.5 L215.7,580.0 L215.9,577.7" />
<path d="M215.7,580.0 L220.5,578.5 L237.0,585.4 L241.6,584.6 L241.6,581.5" />
<path d="M220.5,576.4 L220.5,578.5" />
<path d="M237.5,583.3 L237.3,585.4" />
<path d="M238.0,584.1 L241.4,583.3" stroke-width="2.2"/>
<ellipse cx="212.6" cy="566.1" rx="3.0" ry="1.5" fill="#141414" stroke="none"/>
<ellipse cx="212.3" cy="578.6" rx="3.0" ry="1.5" fill="#141414" stroke="none"/>
<path d="M213,548.5 L213,566" stroke-width="0.9"/>
<path d="M210.2,538.3000000000001 L210.2,548.4000000000001 L215.8,548.4000000000001 L215.8,538.3000000000001 Z" fill="#b4b4b4" stroke-width="1.3"/>
<path d="M208.5,536.1 C208.5,533.5 217.5,533.5 217.5,536.1 L217.5,538.2 C216.5,539.2 209.5,539.2 208.5,538.2 Z" fill="#fff" stroke-width="1.3"/>
<path d="M208.5,536.3000000000001 C209.5,538.1 216.5,538.1 217.5,536.3000000000001" stroke-width="1"/>
<path d="M211.4,537.7 L211.4,538.8000000000001" stroke-width="0.8"/>
<ellipse cx="212.9" cy="555.2" rx="4.8" ry="2.1" fill="#141414" stroke="#141414" stroke-width="0.5"/>
<path d="M153.3,618.2 L198.0,606.1 L217.4,617.6 L217.6,620.2 L213.3,619.4 L222.7,628.2 L218.6,629.4 L200.9,622.4 L191.5,624.9 L199.8,634.1 L196.2,635.3 L179.2,628.2 L173.9,630.0 Z" fill="#fff"/>
<path d="M153.3,618.2 L153.3,620.6 L173.3,631.8 L179.2,629.9 L195.6,637.4 L199.8,636.0 L199.8,634.1" />
<path d="M173.9,630.0 L173.3,631.8" />
<path d="M195.6,637.4 L196.2,635.3" />
<path d="M222.7,628.2 L222.7,630.1 L218.6,631.2 L218.6,629.4" />
<path d="M218.6,631.2 L201.5,624.1 L193.9,626.1" stroke-width="0.9"/>
<ellipse cx="170.4" cy="618.2" rx="2.8" ry="1.4" fill="#141414" stroke="none"/>
<ellipse cx="192.7" cy="612.1" rx="2.8" ry="1.4" fill="#141414" stroke="none"/></g>
<g class="l"><g transform="translate(0,0)">
<path d="M359.1,582.9 L536.5,535.7"/>
<path d="M359.1,582.9 L359.1,587.5 L363.8,591.2 L363.8,586.6" stroke-width="1"/>
<path d="M359.1,582.9 L363.8,585.6" stroke-width="1"/>
<ellipse cx="363.8" cy="583.2" rx="2.6" ry="1.4" fill="#141414" stroke="none"/>
<ellipse cx="364.0" cy="591.6" rx="1.3" ry="1.0" fill="#141414" stroke="none"/>
<path d="M363.8,585.5 L393.8,593.4 M363.3,587.9 L390.8,595.2 L393.8,593.4" stroke-width="1.2"/>
<path d="M382.2,578.9 L393.8,593.4 M384.1,579.1 L394.4,591.8" stroke-width="1.2"/>
<path d="M391.4,594.4 L394.2,593.0" stroke-width="2"/>
<path d="M377.0,579.1 L382.0,579.3" stroke-width="2.8" stroke-linecap="butt"/>
<ellipse cx="387.3" cy="577.0" rx="2.5" ry="1.8" fill="#141414" stroke="none"/>
<path d="M385.9,579.6 L415.9,587.5 M385.4,582.0 L412.9,589.3 L415.9,587.5" stroke-width="1.2"/>
<path d="M404.3,573.0 L415.9,587.5 M406.2,573.2 L416.5,585.9" stroke-width="1.2"/>
<path d="M413.5,588.5 L416.3,587.1" stroke-width="2"/>
<path d="M399.1,573.2 L404.1,573.4" stroke-width="2.8" stroke-linecap="butt"/>
<ellipse cx="409.4" cy="571.1" rx="2.5" ry="1.8" fill="#141414" stroke="none"/>
<path d="M408.0,573.7 L438.0,581.6 M407.5,576.1 L435.0,583.4 L438.0,581.6" stroke-width="1.2"/>
<path d="M426.4,567.1 L438.0,581.6 M428.3,567.3 L438.6,580.0" stroke-width="1.2"/>
<path d="M435.6,582.6 L438.4,581.2" stroke-width="2"/>
<path d="M421.2,567.3 L426.2,567.5" stroke-width="2.8" stroke-linecap="butt"/>
<ellipse cx="431.5" cy="565.2" rx="2.5" ry="1.8" fill="#141414" stroke="none"/>
<path d="M430.1,567.9 L460.1,575.8 M429.6,570.3 L457.1,577.6 L460.1,575.8" stroke-width="1.2"/>
<path d="M448.5,561.3 L460.1,575.8 M450.4,561.5 L460.7,574.2" stroke-width="1.2"/>
<path d="M457.7,576.8 L460.5,575.4" stroke-width="2"/>
<path d="M443.3,561.5 L448.3,561.7" stroke-width="2.8" stroke-linecap="butt"/>
<ellipse cx="453.6" cy="559.4" rx="2.5" ry="1.8" fill="#141414" stroke="none"/>
<path d="M452.2,562.0 L482.2,569.9 M451.7,564.4 L479.2,571.7 L482.2,569.9" stroke-width="1.2"/>
<path d="M470.6,555.4 L482.2,569.9 M472.5,555.6 L482.8,568.3" stroke-width="1.2"/>
<path d="M479.8,570.9 L482.6,569.5" stroke-width="2"/>
<path d="M465.4,555.6 L470.4,555.8" stroke-width="2.8" stroke-linecap="butt"/>
<ellipse cx="475.7" cy="553.5" rx="2.5" ry="1.8" fill="#141414" stroke="none"/>
<path d="M474.3,556.1 L504.3,564.0 M473.8,558.5 L501.3,565.8 L504.3,564.0" stroke-width="1.2"/>
<path d="M492.7,549.5 L504.3,564.0 M494.6,549.7 L504.9,562.4" stroke-width="1.2"/>
<path d="M501.9,565.0 L504.7,563.6" stroke-width="2"/>
<path d="M487.5,549.7 L492.5,549.9" stroke-width="2.8" stroke-linecap="butt"/>
<ellipse cx="497.8" cy="547.6" rx="2.5" ry="1.8" fill="#141414" stroke="none"/>
<path d="M496.4,550.2 L526.4,558.1 M495.9,552.6 L523.4,559.9 L526.4,558.1" stroke-width="1.2"/>
<path d="M514.8,543.6 L526.4,558.1 M516.7,543.8 L527.0,556.5" stroke-width="1.2"/>
<path d="M524.0,559.1 L526.8,557.7" stroke-width="2"/>
<path d="M509.6,543.8 L514.6,544.0" stroke-width="2.8" stroke-linecap="butt"/>
<ellipse cx="519.9" cy="541.7" rx="2.5" ry="1.8" fill="#141414" stroke="none"/>
<path d="M518.5,544.3 L548.5,552.2 M518.0,546.7 L545.5,554.0 L548.5,552.2" stroke-width="1.2"/>
<path d="M536.9,537.7 L548.5,552.2 M538.8,537.9 L549.1,550.6" stroke-width="1.2"/>
<path d="M546.1,553.2 L548.9,551.8" stroke-width="2"/>
<path d="M531.7,537.9 L536.7,538.1" stroke-width="2.8" stroke-linecap="butt"/>
<ellipse cx="542.0" cy="535.8" rx="2.5" ry="1.8" fill="#141414" stroke="none"/>
<path d="M540.6,538.5 L570.6,546.4 M540.1,540.9 L567.6,548.2 L570.6,546.4" stroke-width="1.2"/>
<path d="M559.0,531.9 L570.6,546.4 M560.9,532.1 L571.2,544.8" stroke-width="1.2"/>
<path d="M568.2,547.4 L571.0,546.0" stroke-width="2"/>
<path d="M562.7,532.6 L592.7,540.5 M562.2,535.0 L589.7,542.3 L592.7,540.5" stroke-width="1.2"/>
<path d="M581.1,526.0 L592.7,540.5 M583.0,526.2 L593.3,538.9" stroke-width="1.2"/>
<path d="M590.3,541.5 L593.1,540.1" stroke-width="2"/>
<path d="M584.8,526.7 L614.8,534.6 M584.3,529.1 L611.8,536.4 L614.8,534.6" stroke-width="1.2"/>
<path d="M603.2,520.1 L614.8,534.6 M605.1,520.3 L615.4,533.0" stroke-width="1.2"/>
<path d="M612.4,535.6 L615.2,534.2" stroke-width="2"/>
<path d="M536.5,533.0 L601.5,515.6 L609.6,520.5 L543.4,537.7 Z" fill="#fff"/>
<path d="M536.5,533.0 L536.8,534.8 L543.4,539.5 L609.6,522.3 L609.6,520.5" stroke-width="0.9"/>
<path d="M547.1,528.3 L560.3,524.5 L569.1,530.1 L555.1,534.2 Z" fill="#222"/>
<path d="M551.2,529.8 L561.7,526.8" stroke="#aaa" stroke-width="0.5"/>
<path d="M553.9,531.7 L564.6,528.6" stroke="#aaa" stroke-width="0.5"/>
<path d="M577.9,520.5 L591.9,516.8 L600.7,522.0 L586.0,526.4 Z" fill="#222"/>
<path d="M582.1,522.0 L593.4,519.0" stroke="#aaa" stroke-width="0.5"/>
<path d="M584.8,523.9 L596.3,520.7" stroke="#aaa" stroke-width="0.5"/>
<ellipse cx="544.9" cy="533.7" rx="2.2" ry="1.3" fill="#141414" stroke="none"/>
<ellipse cx="572.8" cy="526.4" rx="2.2" ry="1.3" fill="#141414" stroke="none"/>
<path d="M591.9,516.8 L601.5,514.2" stroke-width="0.8"/>
<path d="M600.7,522.0 L607.4,520.1" stroke-width="0.8"/>
<ellipse cx="532.0" cy="536.0" rx="2.4" ry="1.6" fill="#141414" stroke="none"/>
</g></g>
<g class="l"><g transform="translate(47,99.5)">
<path d="M359.1,582.9 L536.5,535.7"/>
<path d="M359.1,582.9 L359.1,587.5 L363.8,591.2 L363.8,586.6" stroke-width="1"/>
<path d="M359.1,582.9 L363.8,585.6" stroke-width="1"/>
<ellipse cx="363.8" cy="583.2" rx="2.6" ry="1.4" fill="#141414" stroke="none"/>
<ellipse cx="364.0" cy="591.6" rx="1.3" ry="1.0" fill="#141414" stroke="none"/>
<path d="M363.8,585.5 L393.8,593.4 M363.3,587.9 L390.8,595.2 L393.8,593.4" stroke-width="1.2"/>
<path d="M382.2,578.9 L393.8,593.4 M384.1,579.1 L394.4,591.8" stroke-width="1.2"/>
<path d="M391.4,594.4 L394.2,593.0" stroke-width="2"/>
<path d="M377.0,579.1 L382.0,579.3" stroke-width="2.8" stroke-linecap="butt"/>
<ellipse cx="387.3" cy="577.0" rx="2.5" ry="1.8" fill="#141414" stroke="none"/>
<path d="M385.9,579.6 L415.9,587.5 M385.4,582.0 L412.9,589.3 L415.9,587.5" stroke-width="1.2"/>
<path d="M404.3,573.0 L415.9,587.5 M406.2,573.2 L416.5,585.9" stroke-width="1.2"/>
<path d="M413.5,588.5 L416.3,587.1" stroke-width="2"/>
<path d="M399.1,573.2 L404.1,573.4" stroke-width="2.8" stroke-linecap="butt"/>
<ellipse cx="409.4" cy="571.1" rx="2.5" ry="1.8" fill="#141414" stroke="none"/>
<path d="M408.0,573.7 L438.0,581.6 M407.5,576.1 L435.0,583.4 L438.0,581.6" stroke-width="1.2"/>
<path d="M426.4,567.1 L438.0,581.6 M428.3,567.3 L438.6,580.0" stroke-width="1.2"/>
<path d="M435.6,582.6 L438.4,581.2" stroke-width="2"/>
<path d="M421.2,567.3 L426.2,567.5" stroke-width="2.8" stroke-linecap="butt"/>
<ellipse cx="431.5" cy="565.2" rx="2.5" ry="1.8" fill="#141414" stroke="none"/>
<path d="M430.1,567.9 L460.1,575.8 M429.6,570.3 L457.1,577.6 L460.1,575.8" stroke-width="1.2"/>
<path d="M448.5,561.3 L460.1,575.8 M450.4,561.5 L460.7,574.2" stroke-width="1.2"/>
<path d="M457.7,576.8 L460.5,575.4" stroke-width="2"/>
<path d="M443.3,561.5 L448.3,561.7" stroke-width="2.8" stroke-linecap="butt"/>
<ellipse cx="453.6" cy="559.4" rx="2.5" ry="1.8" fill="#141414" stroke="none"/>
<path d="M452.2,562.0 L482.2,569.9 M451.7,564.4 L479.2,571.7 L482.2,569.9" stroke-width="1.2"/>
<path d="M470.6,555.4 L482.2,569.9 M472.5,555.6 L482.8,568.3" stroke-width="1.2"/>
<path d="M479.8,570.9 L482.6,569.5" stroke-width="2"/>
<path d="M465.4,555.6 L470.4,555.8" stroke-width="2.8" stroke-linecap="butt"/>
<ellipse cx="475.7" cy="553.5" rx="2.5" ry="1.8" fill="#141414" stroke="none"/>
<path d="M474.3,556.1 L504.3,564.0 M473.8,558.5 L501.3,565.8 L504.3,564.0" stroke-width="1.2"/>
<path d="M492.7,549.5 L504.3,564.0 M494.6,549.7 L504.9,562.4" stroke-width="1.2"/>
<path d="M501.9,565.0 L504.7,563.6" stroke-width="2"/>
<path d="M487.5,549.7 L492.5,549.9" stroke-width="2.8" stroke-linecap="butt"/>
<ellipse cx="497.8" cy="547.6" rx="2.5" ry="1.8" fill="#141414" stroke="none"/>
<path d="M496.4,550.2 L526.4,558.1 M495.9,552.6 L523.4,559.9 L526.4,558.1" stroke-width="1.2"/>
<path d="M514.8,543.6 L526.4,558.1 M516.7,543.8 L527.0,556.5" stroke-width="1.2"/>
<path d="M524.0,559.1 L526.8,557.7" stroke-width="2"/>
<path d="M509.6,543.8 L514.6,544.0" stroke-width="2.8" stroke-linecap="butt"/>
<ellipse cx="519.9" cy="541.7" rx="2.5" ry="1.8" fill="#141414" stroke="none"/>
<path d="M518.5,544.3 L548.5,552.2 M518.0,546.7 L545.5,554.0 L548.5,552.2" stroke-width="1.2"/>
<path d="M536.9,537.7 L548.5,552.2 M538.8,537.9 L549.1,550.6" stroke-width="1.2"/>
<path d="M546.1,553.2 L548.9,551.8" stroke-width="2"/>
<path d="M531.7,537.9 L536.7,538.1" stroke-width="2.8" stroke-linecap="butt"/>
<ellipse cx="542.0" cy="535.8" rx="2.5" ry="1.8" fill="#141414" stroke="none"/>
<path d="M540.6,538.5 L570.6,546.4 M540.1,540.9 L567.6,548.2 L570.6,546.4" stroke-width="1.2"/>
<path d="M559.0,531.9 L570.6,546.4 M560.9,532.1 L571.2,544.8" stroke-width="1.2"/>
<path d="M568.2,547.4 L571.0,546.0" stroke-width="2"/>
<path d="M562.7,532.6 L592.7,540.5 M562.2,535.0 L589.7,542.3 L592.7,540.5" stroke-width="1.2"/>
<path d="M581.1,526.0 L592.7,540.5 M583.0,526.2 L593.3,538.9" stroke-width="1.2"/>
<path d="M590.3,541.5 L593.1,540.1" stroke-width="2"/>
<path d="M584.8,526.7 L614.8,534.6 M584.3,529.1 L611.8,536.4 L614.8,534.6" stroke-width="1.2"/>
<path d="M603.2,520.1 L614.8,534.6 M605.1,520.3 L615.4,533.0" stroke-width="1.2"/>
<path d="M612.4,535.6 L615.2,534.2" stroke-width="2"/>
<path d="M536.5,533.0 L601.5,515.6 L609.6,520.5 L543.4,537.7 Z" fill="#fff"/>
<path d="M536.5,533.0 L536.8,534.8 L543.4,539.5 L609.6,522.3 L609.6,520.5" stroke-width="0.9"/>
<path d="M547.1,528.3 L560.3,524.5 L569.1,530.1 L555.1,534.2 Z" fill="#222"/>
<path d="M551.2,529.8 L561.7,526.8" stroke="#aaa" stroke-width="0.5"/>
<path d="M553.9,531.7 L564.6,528.6" stroke="#aaa" stroke-width="0.5"/>
<path d="M577.9,520.5 L591.9,516.8 L600.7,522.0 L586.0,526.4 Z" fill="#222"/>
<path d="M582.1,522.0 L593.4,519.0" stroke="#aaa" stroke-width="0.5"/>
<path d="M584.8,523.9 L596.3,520.7" stroke="#aaa" stroke-width="0.5"/>
<ellipse cx="544.9" cy="533.7" rx="2.2" ry="1.3" fill="#141414" stroke="none"/>
<ellipse cx="572.8" cy="526.4" rx="2.2" ry="1.3" fill="#141414" stroke="none"/>
<path d="M591.9,516.8 L601.5,514.2" stroke-width="0.8"/>
<path d="M600.7,522.0 L607.4,520.1" stroke-width="0.8"/>
<ellipse cx="532.0" cy="536.0" rx="2.4" ry="1.6" fill="#141414" stroke="none"/>
</g></g>
<g class="l"><path d="M335.3,443.5 L346.2,431.7 L357.4,431.7 M298,492.6 L310.6,492.6 L337.9,477.9 M396.2,467.4 L410.3,454.1 L419,454.1"/><path d="M178,526.5 L191.8,526.5 L209.4,535.3 M178,540.6 L191.8,540.6 L209.1,554.2"/><path d="M273.7,615.5 L257.8,615.5 L241.9,583.6 M273.7,629.8 L257.8,629.8 L203.5,583.8 M273.7,643.6 L257.8,643.6 L222,626.9"/><path d="M448.5,608.5 L437,608.5 L425.5,580.5 M495.9,711 L485.3,711 L471.3,672.8"/><path d="M145,254.4 L154.9,254.4 M145,266.8 L154.9,266.8 M145.3,280 L154.9,280"/><path d="M128.4,262.8 L145,254.4 M128.4,279.2 L145,266.8 M132.4,297 L145.3,280"/></g>
</svg>
</body></html>
